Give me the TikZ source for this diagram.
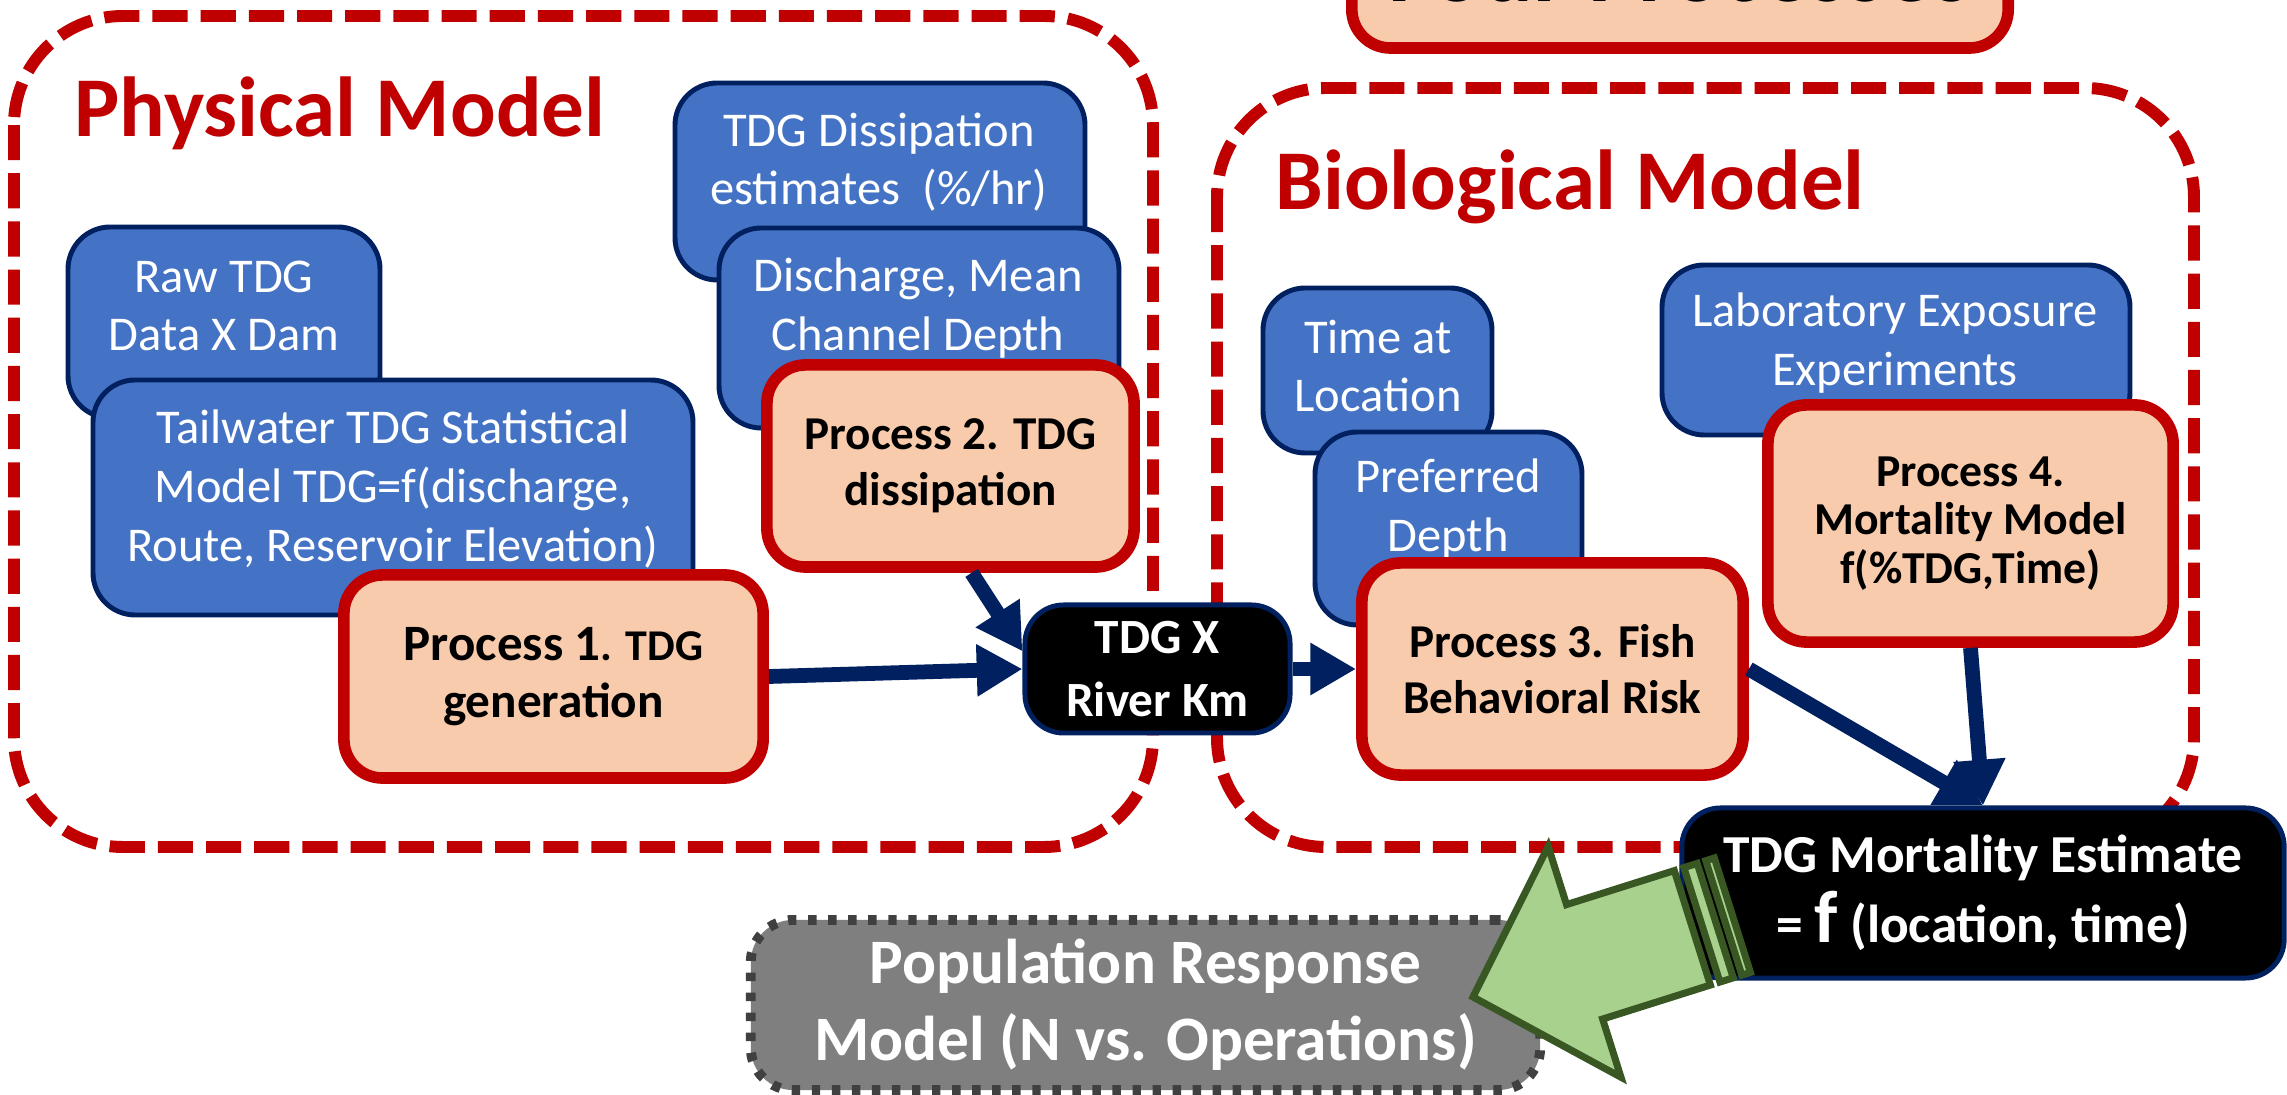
\documentclass[tikz,border=0pt]{standalone}
\usepackage{fontspec}
\setmainfont{Carlito}
\usetikzlibrary{arrows.meta}

\definecolor{boxblue}{HTML}{4472C4}
\definecolor{navy}{HTML}{002060}
\definecolor{darkred}{HTML}{C00000}
\definecolor{salmon}{HTML}{F8CBAD}
\definecolor{leaf}{HTML}{A9D18E}
\definecolor{darkleaf}{HTML}{385723}
\definecolor{popgray}{HTML}{7F7F7F}
\definecolor{popedge}{HTML}{404040}

\tikzset{
  model/.style={draw=darkred, line width=3.4pt, dash pattern=on 10pt off 3.7pt, rounded corners=31pt},
  modeltitle/.style={text=darkred, font=\fontsize{24.2}{29}\selectfont\bfseries},
  inbox/.style={draw=navy, fill=boxblue, line width=1.4pt, rounded corners=12pt},
  intext/.style={text=white, align=center, inner sep=0pt, font=\fontsize{13.8}{16.7}\selectfont},
  process/.style={draw=darkred, fill=salmon, line width=3.3pt, rounded corners=11pt, align=center, inner sep=0pt, font=\fontsize{13.4}{16}\selectfont\bfseries},
  result/.style={draw=navy, fill=black, line width=1.4pt, rounded corners=11pt, text=white, align=center, inner sep=0pt},
  flow/.style={draw=navy, line width=4.2pt, -{Triangle[length=13pt,width=14pt]}},
}

\begin{document}
\begin{tikzpicture}[x=0.01cm, y=-0.01cm]
    \useasboundingbox (0,0) rectangle (2287,1095);

    \draw[model] (14,16) rectangle (1153,847);
    \draw[model] (1217,88) rectangle (2194,847);
    \node[modeltitle] (phys) at (340,113) {Physical Model};
    \node[modeltitle] (bio) at (1570,187) {Biological Model};

    \node[process, minimum width=6.56cm, minimum height=1.54cm, font=\fontsize{27}{30}\selectfont\bfseries] (four) at (1680,-29) {Four Processes};

    \draw[inbox] (68,227) rectangle (380,418);
    \node[intext] (raw) at (224,306) {Raw TDG\\Data X Dam};
    \draw[inbox] (93,380) rectangle (693,615);
    \node[intext] (tail) at (393,489) {Tailwater TDG Statistical\\Model TDG=f(discharge,\\Route, Reservoir Elevation)};
    \node[process, minimum width=4.19cm, minimum height=2.03cm] (p1) at (553.5,676.5) {{\fontsize{14.5}{16}\selectfont Process 1}{\fontsize{12.5}{16}\selectfont. TDG}\\{\fontsize{14}{17}\selectfont generation}};

    \draw[inbox] (675,83) rectangle (1085,280);
    \node[intext] (diss) at (879,162) {TDG Dissipation\\estimates~~(\%/hr)};
    \draw[inbox] (719,228) rectangle (1119,428);
    \node[intext] (disch) at (918,308) {Discharge, Mean\\Channel Depth};
    \node[process, minimum width=3.67cm, minimum height=2.02cm] (p2) at (950.5,466) {Process 2. TDG\\dissipation};

    \node[result, minimum width=2.65cm, minimum height=1.28cm, font=\fontsize{14}{18}\selectfont\bfseries] (tdgx) at (1157.5,669) {TDG X\\River Km};

    \draw[inbox] (1263,288) rectangle (1492,453);
    \node[intext] (time) at (1378,366) {Time at\\Location};
    \draw[inbox] (1315,432) rectangle (1582,625);
    \node[intext] (pref) at (1448,509) {Preferred\\Depth};
    \node[process, minimum width=3.81cm, minimum height=2.12cm] (p3) at (1552.5,669) {Process 3. Fish\\Behavioral Risk};

    \draw[inbox] (1662,265) rectangle (2130,435);
    \node[intext] (lab) at (1895,343) {Laboratory Exposure\\Experiments};
    \node[process, minimum width=4.05cm, minimum height=2.37cm, font=\fontsize{13}{13.8}\selectfont\bfseries] (p4) at (1970.5,523.5) {Process 4.\\Mortality Model\\f(\%TDG,Time)};

    \node[result, minimum width=6.02cm, minimum height=1.7cm, font=\fontsize{15.2}{20}\selectfont\bfseries] (mort) at (1983,893) {TDG Mortality Estimate\\= {\fontsize{21}{20}\selectfont f} (location, time)};
    \node[draw=popedge, fill=popgray, line width=2.8pt, dash pattern=on 2.4pt off 3.3pt, rounded corners=12pt, text=white, align=center, minimum width=7.89cm, minimum height=1.7cm, font=\fontsize{18}{22}\selectfont\bfseries] (pop) at (1145.5,1005) {Population Response\\Model (N vs. Operations)};

    \draw[flow] (p1.east) -- (tdgx.west);
    \draw[flow] ([xshift=6pt]p2.south) -- ([yshift=5pt]tdgx.west);
    \draw[flow] (tdgx.east) -- (p3.west);
    \draw[flow] (p3.east) -- (mort.north);
    \draw[flow] (p4.south) -- (mort.north);

    \begin{scope}[shift={(1473,997)}, rotate=17.5, draw=darkleaf, fill=leaf, line width=2pt, line join=miter]
        \filldraw (0,0) -- (117,-121) -- (117,-60) -- (230,-60) -- (230,60) -- (117,60) -- (117,121) -- cycle;
        \filldraw (240,-60) rectangle (254,60);
        \filldraw (263,-60) rectangle (272,60);
    \end{scope}
\end{tikzpicture}
\end{document}
